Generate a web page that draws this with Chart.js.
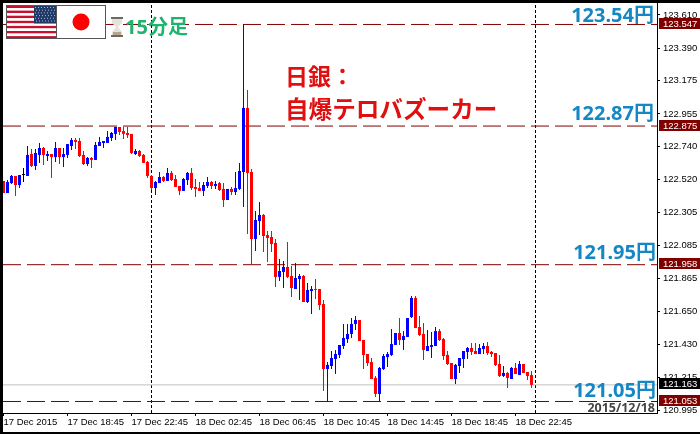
<!DOCTYPE html>
<html>
<head>
<meta charset="utf-8">
<style>
    html, body { margin: 0; padding: 0; width: 700px; height: 434px; background: #000; overflow: hidden; }
    #wrap { position: absolute; left: 3px; top: 3px; width: 697px; height: 429px; background: #fff; }
    canvas { display: block; }
</style>
<script src="https://cdn.jsdelivr.net/npm/chart.js@4/dist/chart.umd.min.js"></script>
</head>
<body>
<div id="wrap"><canvas id="chart-price" width="697" height="429"></canvas></div>
<script>
// USD/JPY 15 min, one entry per candle
const opens = [122.512, 122.432, 122.498, 122.545, 122.485, 122.551, 122.545, 122.690, 122.611, 122.684, 122.730, 122.677, 122.690, 122.670, 122.730, 122.670, 122.684, 122.743, 122.783, 122.776, 122.684, 122.624, 122.664, 122.651, 122.743, 122.763, 122.763, 122.796, 122.823, 122.869, 122.842, 122.829, 122.823, 122.690, 122.710, 122.684, 122.637, 122.545, 122.465, 122.498, 122.538, 122.512, 122.565, 122.525, 122.479, 122.446, 122.518, 122.565, 122.472, 122.465, 122.446, 122.479, 122.505, 122.479, 122.498, 122.459, 122.386, 122.459, 122.439, 122.459, 122.571, 122.995, 122.571, 122.128, 122.247, 122.287, 122.154, 122.141, 122.102, 121.877, 121.910, 121.943, 121.883, 121.797, 121.863, 121.883, 121.711, 121.784, 121.797, 121.797, 121.698, 121.268, 121.288, 121.334, 121.361, 121.420, 121.466, 121.500, 121.566, 121.592, 121.460, 121.367, 121.314, 121.209, 121.103, 121.268, 121.347, 121.361, 121.427, 121.506, 121.460, 121.480, 121.612, 121.738, 121.546, 121.500, 121.387, 121.414, 121.420, 121.519, 121.466, 121.361, 121.308, 121.202, 121.288, 121.334, 121.381, 121.407, 121.387, 121.367, 121.400, 121.420, 121.381, 121.374, 121.301, 121.222, 121.242, 121.202, 121.275, 121.228, 121.301, 121.248, 121.228];
const closes = [122.432, 122.505, 122.545, 122.485, 122.551, 122.551, 122.684, 122.611, 122.697, 122.730, 122.684, 122.690, 122.670, 122.730, 122.670, 122.690, 122.756, 122.783, 122.770, 122.677, 122.624, 122.664, 122.651, 122.750, 122.770, 122.776, 122.803, 122.829, 122.869, 122.836, 122.823, 122.816, 122.697, 122.710, 122.677, 122.631, 122.545, 122.465, 122.505, 122.538, 122.512, 122.565, 122.518, 122.472, 122.446, 122.525, 122.565, 122.465, 122.459, 122.446, 122.485, 122.505, 122.479, 122.492, 122.452, 122.386, 122.459, 122.439, 122.465, 122.578, 122.995, 122.565, 122.128, 122.254, 122.287, 122.148, 122.135, 122.095, 121.877, 121.916, 121.943, 121.877, 121.804, 121.870, 121.883, 121.711, 121.791, 121.797, 121.791, 121.691, 121.268, 121.295, 121.341, 121.367, 121.427, 121.473, 121.500, 121.566, 121.592, 121.453, 121.361, 121.308, 121.202, 121.103, 121.275, 121.354, 121.367, 121.433, 121.506, 121.460, 121.486, 121.605, 121.738, 121.539, 121.493, 121.394, 121.420, 121.427, 121.519, 121.460, 121.354, 121.301, 121.202, 121.295, 121.341, 121.387, 121.407, 121.381, 121.367, 121.407, 121.420, 121.374, 121.367, 121.295, 121.222, 121.242, 121.209, 121.275, 121.235, 121.301, 121.242, 121.222, 121.163];
const highs = [122.512, 122.518, 122.551, 122.545, 122.551, 122.598, 122.743, 122.723, 122.723, 122.763, 122.737, 122.710, 122.690, 122.770, 122.730, 122.730, 122.756, 122.796, 122.796, 122.796, 122.710, 122.670, 122.670, 122.770, 122.803, 122.776, 122.842, 122.836, 122.869, 122.869, 122.869, 122.869, 122.823, 122.723, 122.717, 122.690, 122.644, 122.551, 122.512, 122.571, 122.545, 122.598, 122.578, 122.551, 122.479, 122.532, 122.571, 122.598, 122.525, 122.505, 122.505, 122.538, 122.512, 122.512, 122.505, 122.498, 122.459, 122.472, 122.571, 122.631, 123.547, 123.114, 122.591, 122.313, 122.373, 122.293, 122.181, 122.181, 122.128, 121.996, 121.982, 122.108, 121.949, 121.969, 121.896, 121.890, 121.837, 121.817, 121.863, 121.797, 121.724, 121.314, 121.387, 121.394, 121.427, 121.566, 121.566, 121.605, 121.619, 121.592, 121.460, 121.367, 121.341, 121.222, 121.281, 121.367, 121.381, 121.533, 121.506, 121.605, 121.519, 121.605, 121.751, 121.751, 121.619, 121.572, 121.526, 121.513, 121.546, 121.533, 121.473, 121.387, 121.308, 121.301, 121.341, 121.387, 121.414, 121.440, 121.440, 121.433, 121.440, 121.447, 121.387, 121.374, 121.361, 121.288, 121.248, 121.281, 121.308, 121.321, 121.301, 121.248, 121.255];
const lows = [122.432, 122.432, 122.492, 122.412, 122.465, 122.505, 122.545, 122.604, 122.584, 122.631, 122.618, 122.644, 122.532, 122.637, 122.624, 122.604, 122.664, 122.717, 122.723, 122.670, 122.618, 122.611, 122.598, 122.651, 122.743, 122.730, 122.763, 122.776, 122.783, 122.816, 122.790, 122.796, 122.690, 122.684, 122.670, 122.631, 122.532, 122.452, 122.419, 122.498, 122.505, 122.512, 122.512, 122.472, 122.419, 122.446, 122.485, 122.452, 122.406, 122.446, 122.412, 122.465, 122.459, 122.459, 122.446, 122.340, 122.386, 122.419, 122.419, 122.452, 122.340, 122.161, 121.958, 122.049, 122.154, 122.042, 121.976, 122.042, 121.810, 121.850, 121.804, 121.870, 121.744, 121.797, 121.724, 121.711, 121.705, 121.632, 121.731, 121.658, 121.122, 121.053, 121.268, 121.235, 121.341, 121.400, 121.440, 121.473, 121.526, 121.453, 121.268, 121.288, 121.202, 121.083, 121.053, 121.261, 121.281, 121.354, 121.427, 121.427, 121.394, 121.480, 121.605, 121.539, 121.486, 121.328, 121.387, 121.341, 121.420, 121.453, 121.328, 121.295, 121.202, 121.169, 121.242, 121.275, 121.334, 121.361, 121.367, 121.367, 121.367, 121.361, 121.347, 121.288, 121.215, 121.215, 121.142, 121.202, 121.235, 121.228, 121.242, 121.195, 121.142];

const priceTicks = [123.610, 123.390, 123.175, 122.955, 122.740, 122.520, 122.305, 122.085, 121.865, 121.650, 121.430, 121.215, 120.995];
const timeTicks = [0, 16, 32, 48, 64, 80, 96, 112, 128];
const timeLabels = ['17 Dec 2015', '17 Dec 18:45', '17 Dec 22:45', '18 Dec 02:45', '18 Dec 06:45', '18 Dec 10:45', '18 Dec 14:45', '18 Dec 18:45', '18 Dec 22:45'];
const levels = [123.547, 122.875, 121.958, 121.053];
const levelLabels = ['123.54円', '122.87円', '121.95円', '121.05円'];
const lastPrice = 121.163;
const markers = [37, 133];

const axisFont = { family: '"Liberation Sans"', size: 9.5 };
const jpFont = '"Noto Sans", "Noto Sans CJK JP"';

function candleColor(index) {
    if (opens[index] === closes[index]) return '#000000';
    return closes[index] > opens[index] ? '#0000ff' : '#ff0000';
}

function createLine(points, color, dash) {
    return {
        type: 'line',
        data: points,
        borderColor: color,
        borderWidth: 1,
        borderDash: dash,
        pointRadius: 0,
        order: 5,
    };
}

function drawTag(ctx, scale, value, color) {
    const y = Math.floor(scale.getPixelForValue(value)) + 3;
    ctx.fillStyle = color;
    ctx.fillRect(659, y - 6, 41, 11);
    ctx.fillStyle = '#ffffff';
    ctx.font = axisFont.size + 'px ' + axisFont.family;
    ctx.textAlign = 'left';
    ctx.textBaseline = 'middle';
    ctx.fillText(value.toFixed(3), 663, y);
}

function drawFlags(ctx) {
    // us
    for (let i = 0; i < 13; i++) {
        ctx.fillStyle = i % 2 === 0 ? '#c8102e' : '#ffffff';
        ctx.fillRect(6, 5.5 + i * 2.55, 51, 2.55);
    }
    ctx.fillStyle = '#1f3a68';
    ctx.fillRect(34, 5.5, 22.5, 18);
    ctx.fillStyle = '#aab8d0';
    for (let row = 0; row < 6; row++) {
        for (let col = 0; col < 7; col++) {
            ctx.fillRect(35 + col * 3 + (row % 2), 7 + row * 2.7, 1, 1);
        }
    }
    // japan
    ctx.fillStyle = '#ffffff';
    ctx.fillRect(57, 5.5, 48.5, 33);
    ctx.fillStyle = '#ff0000';
    ctx.beginPath();
    ctx.arc(81, 22, 8.5, 0, Math.PI * 2);
    ctx.fill();
    ctx.strokeStyle = '#555555';
    ctx.lineWidth = 1;
    ctx.strokeRect(6.5, 5.5, 50, 33);
    ctx.strokeRect(56.5, 5.5, 49, 33);
}

function drawHourglass(ctx) {
    ctx.fillStyle = '#e4e2da';
    ctx.beginPath();
    ctx.moveTo(112, 19);
    ctx.lineTo(122, 19);
    ctx.lineTo(122, 23);
    ctx.lineTo(118, 27);
    ctx.lineTo(122, 32);
    ctx.lineTo(122, 35);
    ctx.lineTo(112, 35);
    ctx.lineTo(112, 32);
    ctx.lineTo(116, 27);
    ctx.lineTo(112, 23);
    ctx.fill();
    ctx.fillStyle = '#b5a68c';
    ctx.fillRect(113, 32, 8, 3);
    ctx.fillStyle = '#6e6a62';
    ctx.fillRect(111, 17, 12, 2);
    ctx.fillRect(111, 35, 12, 2);
}

function drawText(ctx, text, x, y, font, color, align) {
    ctx.font = font;
    ctx.fillStyle = color;
    ctx.textAlign = align;
    ctx.textBaseline = 'middle';
    ctx.fillText(text, x, y);
}

function clearPadding(scale) {
    scale.paddingLeft = 0;
    scale.paddingRight = 0;
    scale.paddingTop = 0;
    scale.paddingBottom = 0;
}

const overlay = {
    id: 'overlay',
    afterDraw(chart) {
        const ctx = chart.ctx;
        const scale = chart.scales.y;
        ctx.save();
        ctx.translate(-3, -3);
        levels.forEach(function (level) {
            drawTag(ctx, scale, level, '#800000');
        });
        drawTag(ctx, scale, lastPrice, '#000000');
        drawFlags(ctx);
        drawHourglass(ctx);
        drawText(ctx, '15分足', 125, 28, 'bold 20px ' + jpFont, '#1fb36f', 'left');
        drawText(ctx, '日銀：', 285, 76, 'bold 23px "Noto Sans CJK JP"', '#e01010', 'left');
        drawText(ctx, '自爆テロバズーカー', 285, 109, 'bold 23.6px "Noto Sans CJK JP"', '#e01010', 'left');
        drawText(ctx, levelLabels[0], 654, 16, 'bold 20px ' + jpFont, '#1487c4', 'right');
        drawText(ctx, levelLabels[1], 654, 114, 'bold 20px ' + jpFont, '#1487c4', 'right');
        drawText(ctx, levelLabels[2], 656, 253, 'bold 20px ' + jpFont, '#1487c4', 'right');
        drawText(ctx, levelLabels[3], 656, 391, 'bold 20px ' + jpFont, '#1487c4', 'right');
        drawText(ctx, '2015/12/18', 655, 408, 'bold 12.5px "Noto Sans"', '#444444', 'right');
        ctx.restore();
    }
};

const candleIndex = opens.map((open, index) => index);

new Chart(document.getElementById('chart-price'), {
    data: {
        datasets: [
            {
                type: 'bar',
                data: candleIndex.map(i => ({ x: i, y: [lows[i], highs[i]] })),
                backgroundColor: candleIndex.map(candleColor),
                barThickness: 1,
                grouped: false,
                borderWidth: 0,
                inflateAmount: 0,
                order: 2,
            },
            {
                type: 'bar',
                data: candleIndex.map(i => ({ x: i, y: [opens[i], closes[i]] })),
                backgroundColor: candleIndex.map(candleColor),
                barThickness: 3,
                minBarLength: 1,
                grouped: false,
                borderWidth: 0,
                inflateAmount: 0,
                order: 1,
            },
            ...levels.map(level => createLine([{ x: -0.125, y: level }, { x: 163.375, y: level }], '#800000', [18, 6])),
            createLine([{ x: -0.125, y: lastPrice }, { x: 163.375, y: lastPrice }], '#c0c0c0', []),
            ...markers.map(marker => createLine([{ x: marker, y: 120.977 }, { x: marker, y: 123.689 }], '#000000', [3, 2])),
        ],
    },
    options: {
        responsive: false,
        animation: false,
        layout: { padding: 0 },
        plugins: { legend: { display: false }, tooltip: { enabled: false } },
        scales: {
            x: {
                type: 'linear',
                offset: false,
                min: -0.125,
                max: 163.375,
                afterBuildTicks(scale) {
                    scale.ticks = timeTicks.map(value => ({ value: value }));
                },
                afterFit(scale) {
                    scale.height = 19;
                    clearPadding(scale);
                },
                border: { color: '#000000', width: 1 },
                grid: { offset: false, drawOnChartArea: false, tickColor: '#000000', tickLength: 3 },
                ticks: {
                    autoSkip: false,
                    maxRotation: 0,
                    align: 'start',
                    padding: 1,
                    color: '#000000',
                    font: axisFont,
                    callback(value) {
                        return timeLabels[timeTicks.indexOf(value)];
                    },
                },
            },
            y: {
                position: 'right',
                min: 120.977,
                max: 123.689,
                afterBuildTicks(scale) {
                    scale.ticks = priceTicks.map(value => ({ value: value }));
                },
                afterFit(scale) {
                    scale.width = 43;
                    clearPadding(scale);
                },
                border: { color: '#000000', width: 1 },
                grid: { drawOnChartArea: false, tickColor: '#000000', tickLength: 3 },
                ticks: {
                    autoSkip: false,
                    padding: 3,
                    color: '#000000',
                    font: axisFont,
                    callback(value) {
                        return value.toFixed(3);
                    },
                },
            },
        },
    },
    plugins: [overlay],
});
</script>
</body>
</html>
